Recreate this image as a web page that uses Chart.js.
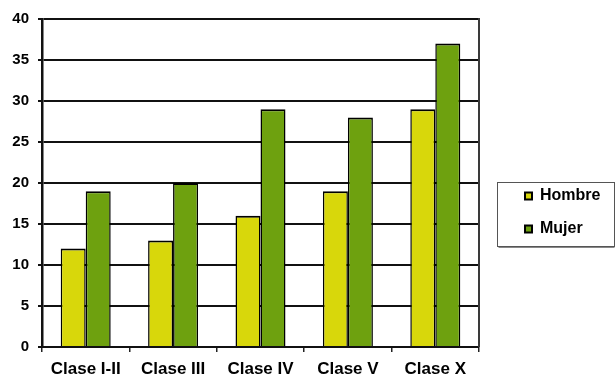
<!DOCTYPE html>
<html>
<head>
<meta charset="utf-8">
<script src="https://cdn.jsdelivr.net/npm/chart.js@4/dist/chart.umd.min.js"></script>
<style>
  html, body { margin: 0; padding: 0; background: #fff; }
  #wrap { width: 615px; height: 376px; }
</style>
</head>
<body>
<div id="wrap"><canvas id="c" width="615" height="376"></canvas></div>
<script>
// Data
const categories = ['Clase I-II', 'Clase III', 'Clase IV', 'Clase V', 'Clase X'];
const hombre = [12, 13, 16, 19, 29];
const mujer = [19, 20, 29, 28, 37];
const seriesNames = ['Hombre', 'Mujer'];
const yMin = 0, yMax = 40, yStep = 5;

const FONT = "'Liberation Sans', Arial, Helvetica, sans-serif";
const YELLOW = '#d8d70b';
const GREEN = '#6ea10f';
const LEGEND_SPACE = 136;   // width reserved on the right for the legend

// Reserves a fixed column for the legend, positions its items,
// draws its frame and the right-hand border of the plot area.
const framePlugin = {
  id: 'frame',
  afterInit(chart) {
    const lg = chart.legend;
    if (!lg) return;
    const fit = lg.fit;
    lg.fit = function () {
      fit.call(this);
      this.width = LEGEND_SPACE;
    };
  },
  afterLayout(chart) {
    const lg = chart.legend;
    if (!lg) return;
    const pad = lg.options.labels.padding;
    const dx = (chart.chartArea.right + 46) - (lg.left + pad);
    const dy = 15;
    lg.left += dx; lg.right += dx;
    lg.top += dy; lg.bottom += dy;
  },
  afterDraw(chart) {
    const {ctx, chartArea: a} = chart;
    ctx.save();
    // right border of the plot
    ctx.strokeStyle = '#3a3a3a';
    ctx.lineWidth = 2;
    ctx.beginPath();
    ctx.moveTo(a.right, a.top - 1);
    ctx.lineTo(a.right, a.bottom);
    ctx.stroke();
    // legend frame
    const hb = chart.legend && chart.legend.legendHitBoxes;
    if (hb && hb.length) {
      const left = Math.round(hb[0].left - 28) + 0.5;
      const top = Math.round(hb[0].top + hb[0].height / 2 - 14) + 0.5;
      const last = hb[hb.length - 1];
      const bottom = Math.round(last.top + last.height / 2 + 17) + 0.5;
      const right = chart.width - 0.5;
      ctx.strokeStyle = '#555';
      ctx.lineWidth = 1;
      ctx.strokeRect(left, top, right - left, bottom - top);
      ctx.strokeStyle = '#888';
      ctx.beginPath();
      ctx.moveTo(left + 1, bottom + 1);
      ctx.lineTo(right, bottom + 1);
      ctx.stroke();
    }
    ctx.restore();
  }
};

const barBorder = {top: 2, left: 1.5, right: 1.5, bottom: 0};

new Chart(document.getElementById('c'), {
  type: 'bar',
  data: {
    labels: categories,
    datasets: [
      {
        label: seriesNames[0],
        data: hombre,
        backgroundColor: YELLOW,
        borderColor: '#000',
        borderWidth: barBorder,
        borderSkipped: false,
        categoryPercentage: 0.572,
        barPercentage: 1.0
      },
      {
        label: seriesNames[1],
        data: mujer,
        backgroundColor: GREEN,
        borderColor: '#000',
        borderWidth: barBorder,
        borderSkipped: false,
        categoryPercentage: 0.572,
        barPercentage: 1.0
      }
    ]
  },
  options: {
    responsive: false,
    animation: false,
    devicePixelRatio: 1,
    layout: { padding: { top: 19, left: 0, right: 0, bottom: 0 } },
    plugins: {
      tooltip: { enabled: false },
      legend: {
        position: 'right',
        labels: {
          color: '#000',
          font: { family: FONT, size: 16, weight: 'bold' },
          boxWidth: 7,
          boxHeight: 7,
          padding: 17,
          generateLabels(chart) {
            return Chart.defaults.plugins.legend.labels.generateLabels(chart)
              .map(l => Object.assign(l, { lineWidth: 2, strokeStyle: '#000' }));
          }
        }
      }
    },
    scales: {
      x: {
        offset: true,
        grid: {
          offset: true,
          drawOnChartArea: false,
          drawTicks: true,
          tickLength: 5,
          color: '#222',
          lineWidth: 1.5
        },
        border: { display: true, color: '#111', width: 2 },
        ticks: {
          color: '#000',
          padding: 7,
          maxRotation: 0,
          font: { family: FONT, size: 17, weight: 'bold' }
        },
        afterFit(scale) { scale.height = 29; }
      },
      y: {
        min: yMin,
        max: yMax,
        grid: {
          color: '#111',
          lineWidth: 2,
          drawTicks: true,
          tickLength: 4
        },
        border: { display: true, color: '#111', width: 2.5 },
        ticks: {
          stepSize: yStep,
          color: '#000',
          padding: 9,
          font: { family: FONT, size: 15, weight: 'bold' }
        },
        afterFit(scale) { scale.width = 42; }
      }
    }
  },
  plugins: [framePlugin]
});
</script>
</body>
</html>
